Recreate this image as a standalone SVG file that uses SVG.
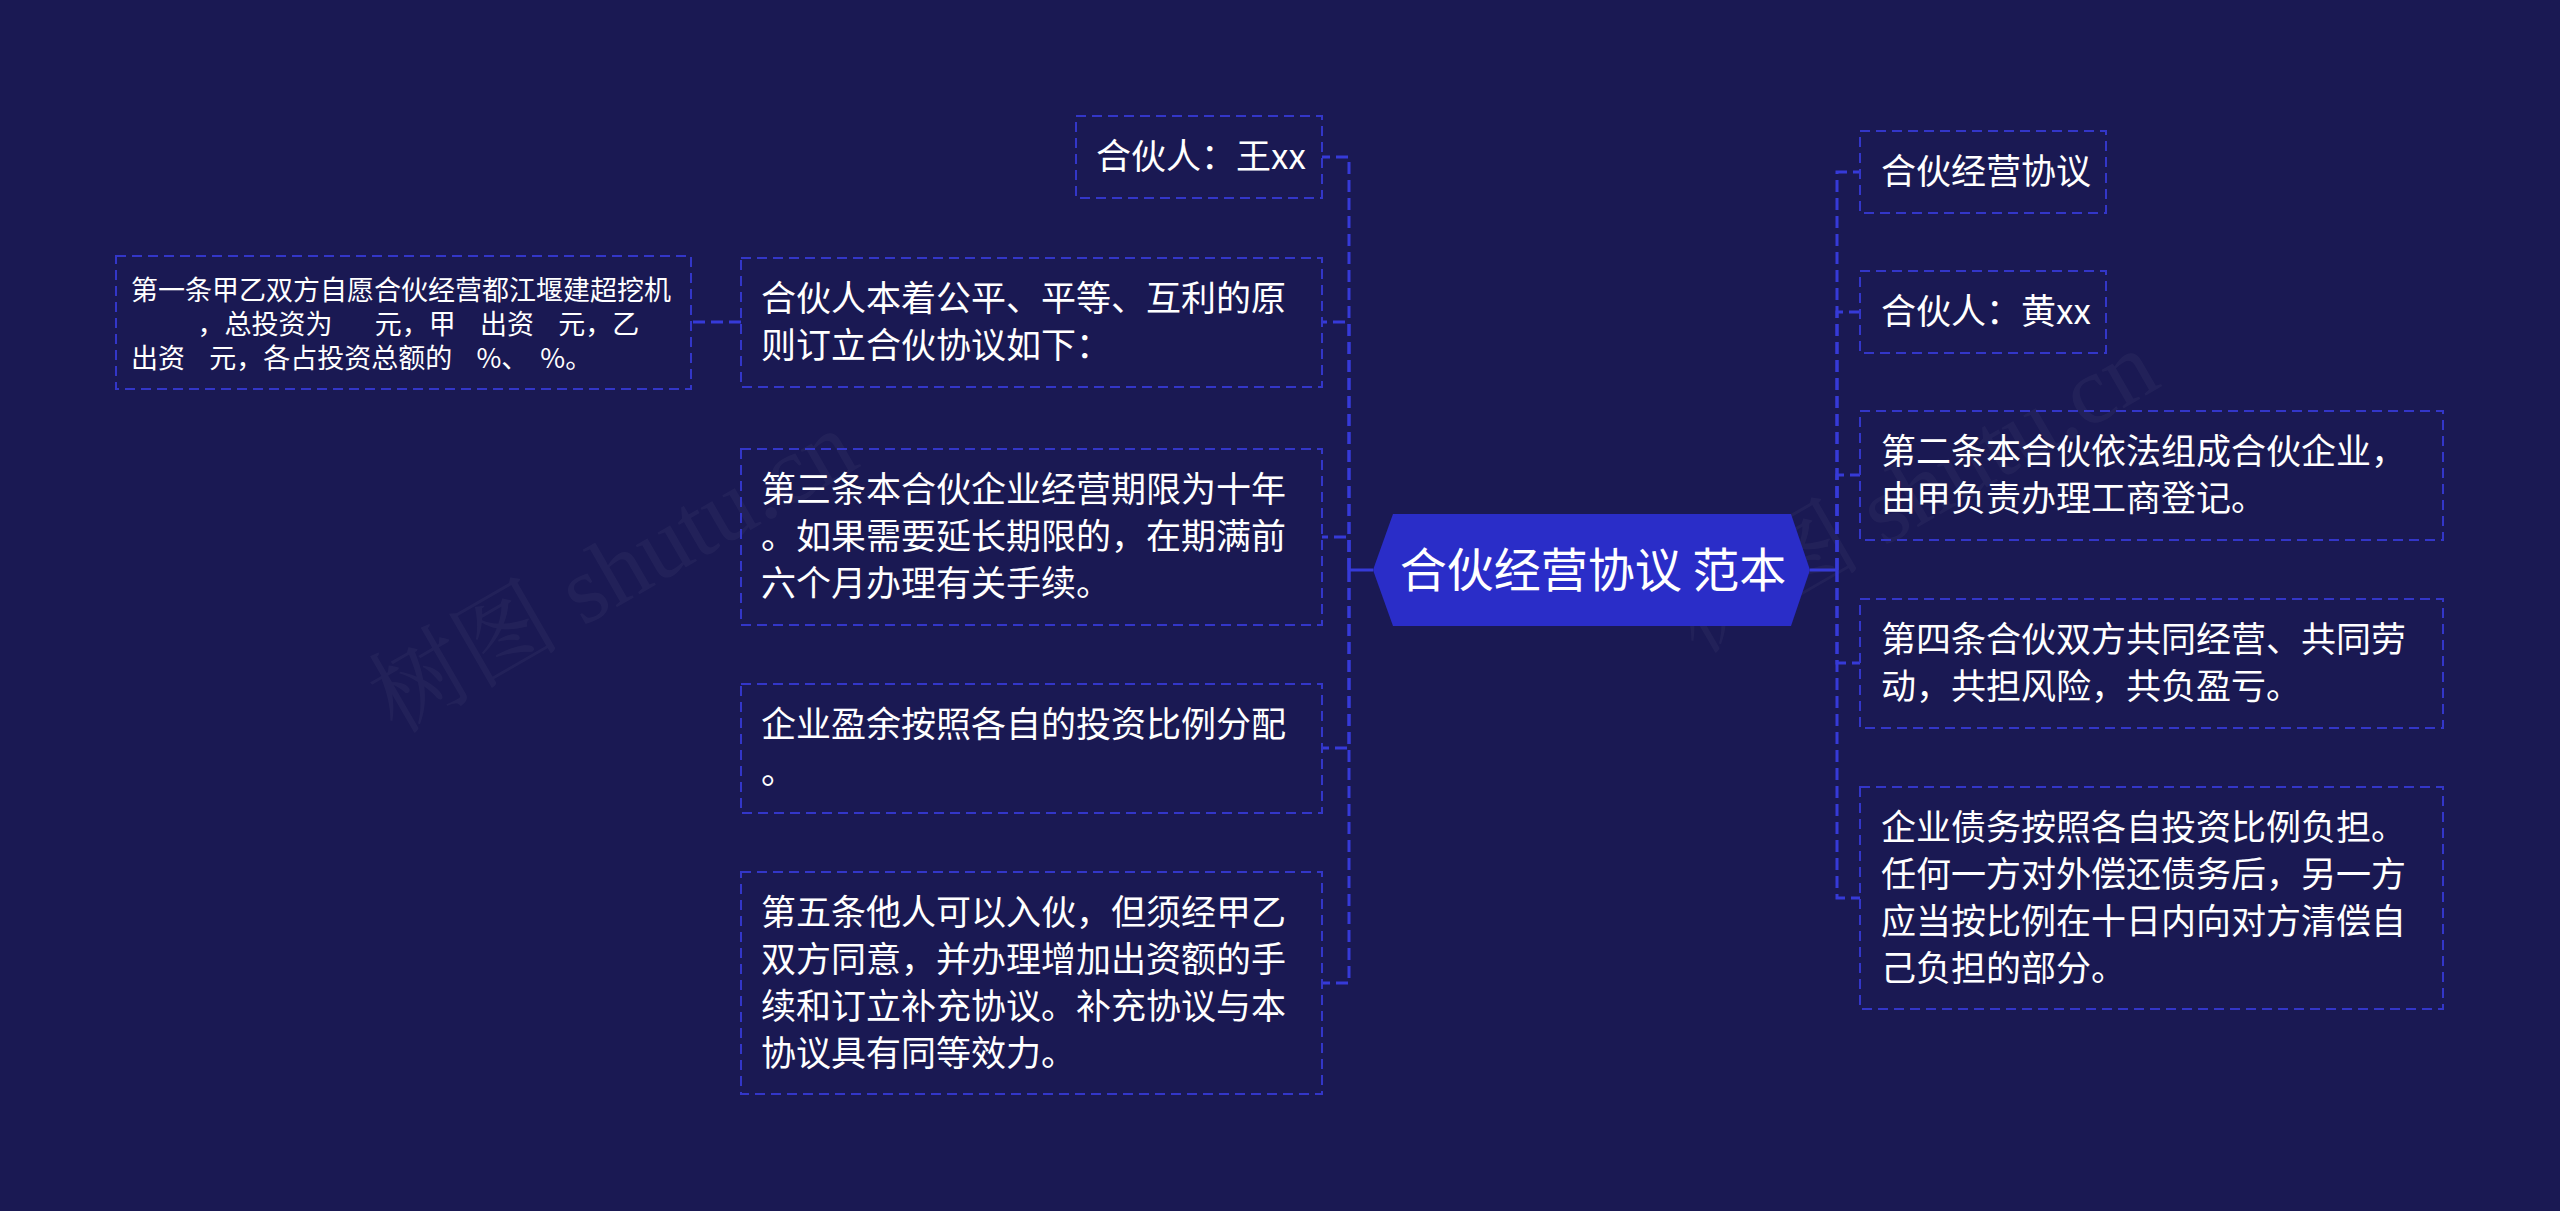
<svg xmlns="http://www.w3.org/2000/svg" width="2560" height="1211" viewBox="0 0 2560 1211">
<style>
.bg{fill:#1a1953}
.box{fill:none;stroke:#3336c8;stroke-width:2;stroke-dasharray:10 6}
.t{font-family:"Noto Sans CJK SC","Noto Sans",sans-serif;font-size:35px;fill:#ffffff}
.ts{font-family:"Noto Sans CJK SC","Noto Sans",sans-serif;font-size:27px;fill:#ffffff;white-space:pre}
.tc{font-family:"Noto Sans CJK SC","Noto Sans",sans-serif;font-size:47px;fill:#ffffff;text-anchor:middle}
.con{fill:none;stroke:#363ad8;stroke-width:3;stroke-dasharray:12 6}
.solid{fill:none;stroke:#363ad8;stroke-width:3}
.wm{font-family:"Liberation Serif","Noto Serif CJK SC",serif;font-size:96px;fill:#ffffff;opacity:0.035}
</style>
<rect class="bg" x="0" y="0" width="2560" height="1211"/>
<text class="wm" transform="translate(629 600) rotate(-30)" text-anchor="middle">树图 shutu.cn</text>
<text class="wm" transform="translate(1930 520) rotate(-30)" text-anchor="middle">树图 shutu.cn</text>
<g id="connectors">
<path class="solid" d="M1373,570 H1349"/>
<path class="con" d="M1349,570 V157 H1322"/>
<path class="con" d="M1349,570 V322 H1322"/>
<path class="con" d="M1349,570 V537 H1322"/>
<path class="con" d="M1349,570 V748 H1322"/>
<path class="con" d="M1349,570 V983 H1322"/>
<path class="con" d="M741,322 H691"/>
<path class="solid" d="M1810,570 H1837"/>
<path class="con" d="M1837,570 V172 H1860"/>
<path class="con" d="M1837,570 V312 H1860"/>
<path class="con" d="M1837,570 V475 H1860"/>
<path class="con" d="M1837,570 V663 H1860"/>
<path class="con" d="M1837,570 V898 H1860"/>
</g>
<g id="root">
<path d="M1373,570 L1393,514 L1791,514 L1810,570 L1791,626 L1393,626 Z" fill="#2a2dc8"/>
<text class="tc" x="1593" y="587">合伙经营协议 范本</text>
</g>
<g id="n-wang">
<rect class="box" x="1076" y="116" width="246" height="82"/>
<text class="t" x="1096" y="169">合伙人：王xx</text>
</g>
<g id="n-yuanze">
<rect class="box" x="741" y="258" width="581" height="129"/>
<text class="t" x="761" y="311">合伙人本着公平、平等、互利的原</text>
<text class="t" x="761" y="358">则订立合伙协议如下：</text>
</g>
<g id="n-diyi">
<rect class="box" x="116" y="256" width="575" height="133"/>
<text class="ts" x="131" y="300">第一条甲乙双方自愿合伙经营都江堰建超挖机</text>
<text class="ts" x="131" y="334" xml:space="preserve">           ，总投资为       元，甲    出资    元，乙</text>
<text class="ts" x="131" y="368" xml:space="preserve">出资    元，各占投资总额的    %、  %。</text>
</g>
<g id="n-disan">
<rect class="box" x="741" y="449" width="581" height="176"/>
<text class="t" x="761" y="502">第三条本合伙企业经营期限为十年</text>
<text class="t" x="761" y="549">。如果需要延长期限的，在期满前</text>
<text class="t" x="761" y="596">六个月办理有关手续。</text>
</g>
<g id="n-yingyu">
<rect class="box" x="741" y="684" width="581" height="129"/>
<text class="t" x="761" y="737">企业盈余按照各自的投资比例分配</text>
<text class="t" x="761" y="784">。</text>
</g>
<g id="n-diwu">
<rect class="box" x="741" y="872" width="581" height="222"/>
<text class="t" x="761" y="925">第五条他人可以入伙，但须经甲乙</text>
<text class="t" x="761" y="972">双方同意，并办理增加出资额的手</text>
<text class="t" x="761" y="1019">续和订立补充协议。补充协议与本</text>
<text class="t" x="761" y="1066">协议具有同等效力。</text>
</g>
<g id="n-xieyi">
<rect class="box" x="1860" y="131" width="246" height="82"/>
<text class="t" x="1881" y="184">合伙经营协议</text>
</g>
<g id="n-huang">
<rect class="box" x="1860" y="271" width="246" height="82"/>
<text class="t" x="1881" y="324">合伙人：黄xx</text>
</g>
<g id="n-dier">
<rect class="box" x="1860" y="411" width="583" height="129"/>
<text class="t" x="1881" y="464">第二条本合伙依法组成合伙企业，</text>
<text class="t" x="1881" y="511">由甲负责办理工商登记。</text>
</g>
<g id="n-disi">
<rect class="box" x="1860" y="599" width="583" height="129"/>
<text class="t" x="1881" y="652">第四条合伙双方共同经营、共同劳</text>
<text class="t" x="1881" y="699">动，共担风险，共负盈亏。</text>
</g>
<g id="n-zhaiwu">
<rect class="box" x="1860" y="787" width="583" height="222"/>
<text class="t" x="1881" y="840">企业债务按照各自投资比例负担。</text>
<text class="t" x="1881" y="887">任何一方对外偿还债务后，另一方</text>
<text class="t" x="1881" y="934">应当按比例在十日内向对方清偿自</text>
<text class="t" x="1881" y="981">己负担的部分。</text>
</g>
</svg>
